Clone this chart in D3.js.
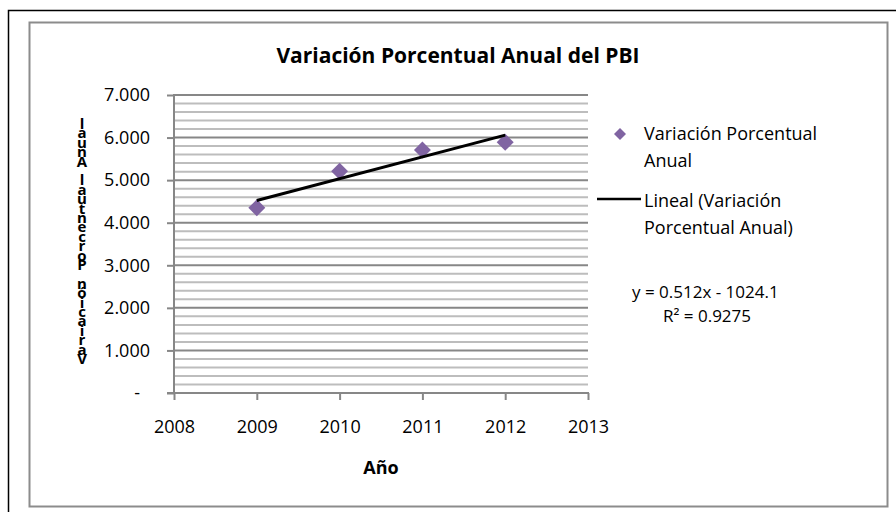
<!DOCTYPE html>
<html lang="es">
<head>
<meta charset="UTF-8"/>
<title>Variación Porcentual Anual del PBI</title>
<script src="https://d3js.org/d3.v7.min.js"></script>
<style>
  body { margin: 0; background: #fff; }
  text { font-family: "Open Sans", Lato, sans-serif; fill: #000; }
</style>
</head>
<body>
<script>
// data
var years = [2009, 2010, 2011, 2012];
var variacion = [4.35, 5.21, 5.71, 5.89];
var xTicks = [2008, 2009, 2010, 2011, 2012, 2013];
var yTicks = [0, 1, 2, 3, 4, 5, 6, 7];
var seriesName = ["Variación Porcentual", "Anual"];
var trendName = ["Lineal (Variación", "Porcentual Anual)"];
var trendText = ["y = 0.512x - 1024.1", "R² = 0.9275"];

var w = 896, h = 512;
var plot = {left: 174, right: 588, top: 95, bottom: 393};

var svg = d3.select("body").append("svg")
  .attr("width", w)
  .attr("height", h);

// outer frame (black, only top and left visible)
svg.append("path")
  .attr("d", "M8.5," + h + "V10.5H" + w)
  .attr("fill", "none")
  .attr("stroke", "#000")
  .attr("stroke-width", 1.5);

// chart area frame
svg.append("rect")
  .attr("x", 29.5).attr("y", 22.5)
  .attr("width", 858).attr("height", 484)
  .attr("fill", "#fff")
  .attr("stroke", "#8c8c8c")
  .attr("stroke-width", 2);

var xScale = d3.scaleLinear().domain([2008, 2013]).range([plot.left, plot.right]);
var yScale = d3.scaleLinear().domain([0, 7]).range([plot.bottom, plot.top]);

// minor gridlines every 0.2
var minor = d3.range(1, 35).map(function(i){ return i / 5; })
  .filter(function(v){ return Math.abs(v - Math.round(v)) > 0.01; });

svg.append("g").selectAll("line")
  .data(minor)
  .enter().append("line")
  .attr("x1", plot.left).attr("x2", plot.right)
  .attr("y1", function(d){ return yScale(d); })
  .attr("y2", function(d){ return yScale(d); })
  .attr("stroke", "#bdbdbd")
  .attr("stroke-width", 2);

// major gridlines
svg.append("g").selectAll("line")
  .data(yTicks.slice(1))
  .enter().append("line")
  .attr("x1", plot.left).attr("x2", plot.right)
  .attr("y1", function(d){ return yScale(d); })
  .attr("y2", function(d){ return yScale(d); })
  .attr("stroke", "#878787")
  .attr("stroke-width", 2);

// y axis, labels like 7.000 and "-" for zero
var yAxis = svg.append("g")
  .attr("transform", "translate(" + plot.left + ",0)")
  .call(d3.axisLeft(yScale)
    .tickValues(yTicks)
    .tickSize(7)
    .tickPadding(17)
    .tickFormat(function(d){ return d === 0 ? "-" : d + ".000"; }));
yAxis.selectAll(".tick text")
  .attr("dx", function(d){ return d === 0 ? -10 : 0; })
  .style("font-size", "18px");

// x axis
var xAxis = svg.append("g")
  .attr("transform", "translate(0," + plot.bottom + ")")
  .call(d3.axisBottom(xScale)
    .tickValues(xTicks)
    .tickSize(7)
    .tickPadding(20)
    .tickFormat(d3.format("d")));
xAxis.selectAll(".tick text").style("font-size", "18px");

svg.selectAll(".domain, .tick line")
  .attr("stroke", "#878787")
  .attr("stroke-width", 2);
yAxis.select(".domain").attr("d", "M0," + (plot.top - 1) + "V" + (plot.bottom + 1));
xAxis.select(".domain").attr("d", "M" + (plot.left - 7) + ",0H" + (plot.right + 1));

// points
var diamond = d3.symbol().type(d3.symbolSquare).size(144);
svg.append("g").selectAll("path")
  .data(years)
  .enter().append("path")
  .attr("d", diamond)
  .attr("transform", function(d, i){
    return "translate(" + xScale(d) + "," + yScale(variacion[i]) + ") rotate(45)";
  })
  .attr("fill", "#8064a2");

// linear trend (least squares)
var mx = d3.mean(years), my = d3.mean(variacion);
var slope = d3.sum(years, function(d, i){ return (d - mx) * (variacion[i] - my); }) /
            d3.sum(years, function(d){ return (d - mx) * (d - mx); });
var intercept = my - slope * mx;
var ends = [d3.min(years), d3.max(years)];
svg.append("path")
  .datum(ends)
  .attr("d", d3.line()
    .x(function(d){ return xScale(d); })
    .y(function(d){ return yScale(slope * d + intercept); }))
  .attr("fill", "none")
  .attr("stroke", "#000")
  .attr("stroke-width", 3);

// title
svg.append("text")
  .attr("x", 458).attr("y", 63)
  .attr("text-anchor", "middle")
  .style("font-size", "21px")
  .style("font-weight", "bold")
  .text("Variación Porcentual Anual del PBI");

// x title
svg.append("text")
  .attr("x", 381).attr("y", 474)
  .attr("text-anchor", "middle")
  .style("font-size", "18px")
  .style("font-weight", "bold")
  .text("Año");

// y title: one text, glyphs stacked bottom to top
var yTitle = "Variación Porcentual Anual";
var ys = d3.range(yTitle.length).map(function(i){ return 364 - i * 9.4; });
svg.append("text")
  .attr("x", yTitle.split("").map(function(){ return 82; }).join(" "))
  .attr("y", ys.join(" "))
  .attr("text-anchor", "middle")
  .style("font-size", "15px")
  .style("font-weight", "bold")
  .text(yTitle);

// legend
var lg = svg.append("g");
lg.append("path")
  .attr("d", d3.symbol().type(d3.symbolSquare).size(72))
  .attr("transform", "translate(620,134) rotate(45)")
  .attr("fill", "#8064a2");
lg.selectAll("text.s")
  .data(seriesName)
  .enter().append("text")
  .attr("class", "s")
  .attr("x", 644)
  .attr("y", function(d, i){ return 140 + i * 27; })
  .style("font-size", "18px")
  .text(function(d){ return d; });
lg.append("line")
  .attr("x1", 597).attr("x2", 641)
  .attr("y1", 199).attr("y2", 199)
  .attr("stroke", "#000")
  .attr("stroke-width", 2.5);
lg.selectAll("text.t")
  .data(trendName)
  .enter().append("text")
  .attr("class", "t")
  .attr("x", 644)
  .attr("y", function(d, i){ return 207 + i * 27; })
  .style("font-size", "18px")
  .text(function(d){ return d; });

// equation
svg.selectAll("text.eq")
  .data(trendText)
  .enter().append("text")
  .attr("class", "eq")
  .attr("x", function(d, i){ return i === 0 ? 632 : 663; })
  .attr("y", function(d, i){ return 298 + i * 24; })
  .style("font-size", "17px")
  .text(function(d){ return d; });
</script>
</body>
</html>
